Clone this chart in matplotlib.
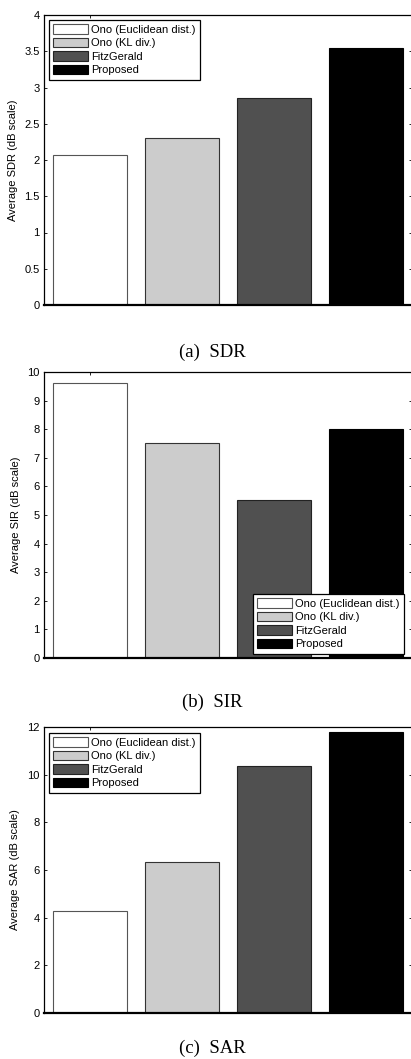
import matplotlib
matplotlib.use("Agg")
import matplotlib.pyplot as plt
from matplotlib.ticker import FormatStrFormatter

plt.rcParams["font.family"] = ["Liberation Sans", "DejaVu Sans"]

methods = ["Ono (Euclidean dist.)", "Ono (KL div.)", "FitzGerald", "Proposed"]
colors = ["#ffffff", "#cccccc", "#505050", "#000000"]
edges = ["#555555", "#333333", "#222222", "#000000"]

sdr = [2.07, 2.31, 2.86, 3.55]
sir = [9.60, 7.52, 5.53, 8.02]
sar = [4.30, 6.32, 10.35, 11.78]

W, H = 411, 1059
fig = plt.figure(figsize=(W / 100, H / 100), dpi=100)

panels = [
    # values, ylabel, caption, ylim, step, axes top/bottom px, legend box (x, y top) px, caption y px
    (sdr, "Average SDR (dB scale)", "(a)  SDR", 4, 0.5, 15, 305, (49, 20), 352),
    (sir, "Average SIR (dB scale)", "(b)  SIR", 10, 1, 372, 658, (253, 594), 702),
    (sar, "Average SAR (dB scale)", "(c)  SAR", 12, 2, 727, 1013, (49, 733), 1048),
]

for vals, ylab, cap, ymax, step, top, bot, (lx, ly), capy in panels:
    ax = fig.add_axes([44 / W, 1 - bot / H, 368 / W, (bot - top) / H])
    x = range(1, len(vals) + 1)
    bars = ax.bar(x, vals, width=0.8, color=colors, edgecolor=edges,
                  linewidth=0.8, zorder=2)
    ax.set_xlim(0.5, 4.5)
    ax.set_ylim(0, ymax)
    ticks = [i * step for i in range(int(round(ymax / step)) + 1)]
    ax.set_yticks(ticks)
    ax.yaxis.set_major_formatter(FormatStrFormatter("%g"))
    ax.set_xticks([1])
    ax.set_xticklabels([])
    ax.tick_params(direction="in", length=2.5, width=0.6, labelsize=8,
                   top=True, right=True, pad=3)
    for s in ["top", "left"]:
        ax.spines[s].set_linewidth(0.9)
    ax.spines["bottom"].set_linewidth(1.6)
    ax.set_ylabel(ylab, fontsize=8, labelpad=5)

    leg = ax.legend(bars, methods, loc="upper left",
                    bbox_to_anchor=(lx / W, 1 - ly / H),
                    bbox_transform=fig.transFigure,
                    fontsize=8, frameon=True, fancybox=False,
                    edgecolor="black", framealpha=1,
                    handlelength=3.15, handleheight=0.95, handletextpad=0.25,
                    labelspacing=0.25, borderpad=0.4, borderaxespad=0)
    leg.get_frame().set_linewidth(0.9)
    leg.set_zorder(5)

    fig.text(212 / W, 1 - capy / H, cap, ha="center", va="center",
             fontsize=13.5, family="Liberation Serif")

fig.savefig("out.png", dpi=100)
